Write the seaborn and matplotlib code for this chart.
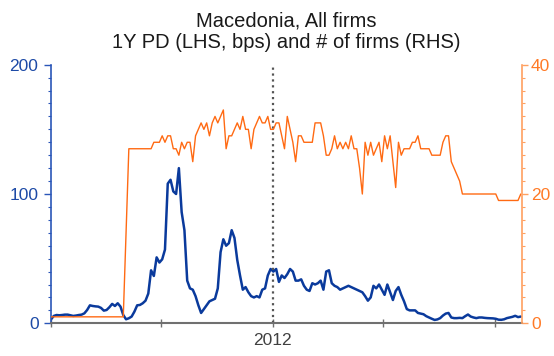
import numpy as np
import pandas as pd
import matplotlib
matplotlib.use('Agg')
import matplotlib.pyplot as plt
from matplotlib.ticker import MultipleLocator
import seaborn as sns

# weekly-ish observations, Jan 2011 - Feb 2013
dates = pd.date_range('2011-01-01', '2013-02-13', periods=170)

# 1Y PD in bps (left axis)
pd_bps = [3, 5.7, 6.4, 6.2, 6.4, 6.7, 6.7, 6.2, 5.7, 6, 6.4, 6.7, 7.7, 10.3, 13.9, 13.4, 13.1, 12.9, 11.9, 9.8,
          10.3, 12.4, 15, 13.4, 15.5, 12.9, 6.4, 3.1, 3.9, 5.2, 9, 13.9, 14.2, 15.5, 17.5, 23, 41, 36.6, 51, 47,
          49.5, 57, 108, 111, 102, 100, 120, 86, 72, 33, 27, 26, 21, 14, 8, 11, 14, 17, 18, 19,
          27, 55, 65, 60, 62, 72, 66, 49, 37, 26, 28, 24, 21, 20, 21, 20, 26, 27, 37, 42,
          40, 42, 32, 37, 35, 38, 42, 40, 33, 33, 34, 29, 26, 25, 31, 30, 31, 33, 26, 40,
          41, 31, 29, 28, 26, 27, 28, 29, 28, 27, 26, 25, 24, 21, 17.5, 20, 29, 27, 30, 26,
          22, 30, 24, 18, 25, 28, 22, 17, 11, 10, 10, 10, 8, 7.5, 7, 5.5, 4.5, 3.5, 2.6, 3,
          4, 6, 7.5, 8, 4.5, 4, 4, 4.2, 4, 5.5, 6.8, 5.2, 4.5, 4, 4.5, 4.5, 4.2, 4, 3.9, 3.8,
          3.5, 2.8, 2.7, 3.1, 4, 4.5, 5, 5.8, 4.8, 5.2]

# number of firms (right axis)
n_firms = [1, 1, 1, 1, 1, 1, 1, 1, 1, 1, 1, 1, 1, 1, 1, 1, 1, 1, 1, 1,
           1, 1, 1, 1, 1, 1, 1, 14, 27, 27, 27, 27, 27, 27, 27, 27, 27, 28, 28, 28,
           29, 28, 29, 29, 27, 27, 26, 28, 27, 28, 28, 25, 29, 30, 31, 30, 31, 29, 31, 32,
           31, 32, 33, 27, 29, 29, 30, 31, 30, 32, 30, 30, 27, 30, 31, 32, 31, 31, 32, 30,
           30, 31, 31, 29, 27, 32, 30, 28, 25, 29, 29, 28, 28, 28, 28, 31, 31, 31, 29, 26,
           26, 27, 29, 27, 28, 27, 28, 27, 29, 27, 27, 24, 20, 28, 26, 28, 26, 27, 28, 25,
           29, 27, 29, 25, 21, 28, 26, 27, 27, 27, 28, 28, 29, 27, 27, 27, 27, 26, 26, 26,
           26, 28, 29, 29, 25, 24, 23, 22, 20, 20, 20, 20, 20, 20, 20, 20, 20, 20, 20, 20,
           20, 19, 19, 19, 19, 19, 19, 19, 19, 20]

xtick_dates = pd.to_datetime(['2011-01-01', '2011-07-01', '2012-01-01', '2012-07-01', '2013-01-01'])
xtick_labels = ['', '', '2012', '', '']
marker_date = pd.Timestamp('2012-01-01')

df = pd.DataFrame({'date': dates, 'pd': pd_bps, 'firms': n_firms})

sns.set_style('white')
plt.rcParams['font.family'] = ['Liberation Sans', 'DejaVu Sans']

blue = '#0a3a9c'
blue_ax = '#2a56b8'
orange = '#ff6a13'
orange_ax = '#ffa060'
grey = '#707070'

fig = plt.figure(figsize=(5.54, 3.56), dpi=100)
ax = fig.add_axes([51 / 554, 1 - 323.3 / 356, 471 / 554, 258.6 / 356])
ax2 = ax.twinx()

sns.lineplot(data=df, x='date', y='pd', ax=ax, color=blue, lw=1.8)
sns.lineplot(data=df, x='date', y='firms', ax=ax2, color=orange, lw=1.0)
ax.axvline(marker_date, color='#555555', ls=':', lw=1.6)

ax.set_xlim(dates[0], pd.Timestamp('2013-02-15'))
ax.set_ylim(0, 200)
ax2.set_ylim(0, 40)

# left axis
ax.yaxis.set_major_locator(MultipleLocator(100))
ax.yaxis.set_minor_locator(MultipleLocator(10))
ax.tick_params(axis='y', which='major', left=True, direction='out', length=5, width=1,
               color=blue_ax, labelcolor='#1d4aa6', labelsize=12.5, pad=4)
ax.tick_params(axis='y', which='minor', left=True, direction='out', length=2.5, width=0.8, color=blue_ax)

# right axis
ax2.yaxis.set_major_locator(MultipleLocator(20))
ax2.yaxis.set_minor_locator(MultipleLocator(2))
ax2.tick_params(axis='y', which='major', right=True, direction='out', length=4, width=1,
                color=orange_ax, labelcolor='#ff7a26', labelsize=12.5, pad=2.5)
ax2.tick_params(axis='y', which='minor', right=True, direction='out', length=2.5, width=0.8, color=orange_ax)

# x axis
ax.set_xticks(xtick_dates)
ax.set_xticklabels(xtick_labels)
ax.tick_params(axis='x', which='major', bottom=True, direction='inout', length=6, width=1,
               color=grey, labelcolor='#404040', labelsize=12.5, pad=4)
ax.xaxis.set_minor_locator(plt.NullLocator())

for a in (ax, ax2):
    a.set_xlabel('')
    a.set_ylabel('')
    a.spines['top'].set_visible(False)
ax.spines['right'].set_visible(False)
ax2.spines['left'].set_visible(False)
ax2.spines['bottom'].set_visible(False)
ax.spines['left'].set_color(blue_ax)
ax.spines['left'].set_linewidth(1.2)
ax2.spines['right'].set_color(orange_ax)
ax2.spines['right'].set_linewidth(1.2)
ax.spines['bottom'].set_color(grey)
ax.spines['bottom'].set_linewidth(1.5)

fig.text(286.5 / 554, 1 - 31.7 / 356, 'Macedonia, All firms\n1Y PD (LHS, bps) and # of firms (RHS)',
         ha='center', va='center', fontsize=14.5, color='#1a1a1a', linespacing=1.2)

fig.savefig('out.png', dpi=100)
